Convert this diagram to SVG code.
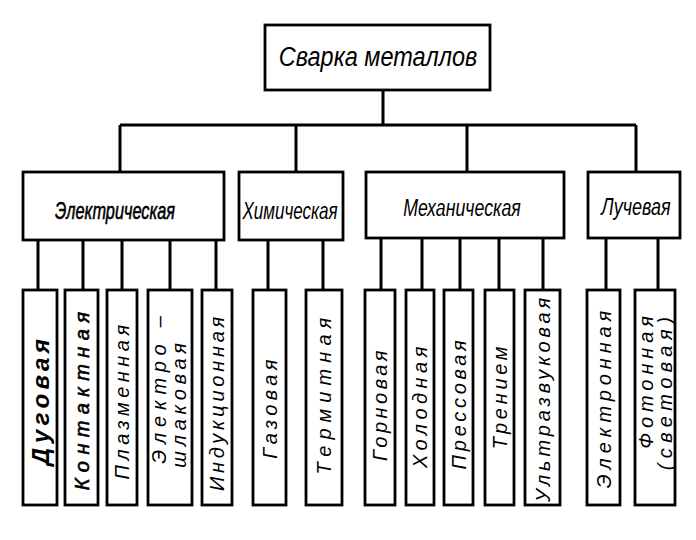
<svg xmlns="http://www.w3.org/2000/svg" width="696" height="540" viewBox="0 0 696 540">
<style>
.box{fill:#fff;stroke:#000;stroke-width:2.8}
.con{fill:none;stroke:#000;stroke-width:3}
text{font-family:"Liberation Sans","DejaVu Sans",sans-serif;font-style:italic;fill:#000;text-anchor:middle;dominant-baseline:central}
.m{font-size:24px}
.l{font-size:20px}
.s{stroke:#000;stroke-width:0.6}
</style>
<rect width="696" height="540" fill="#fff"/>
<g id="connectors">
<path class="con" d="M383 90V125M120 125H636M120 125V172M296 125V172M467 125V172M636 125V172"/>
<path class="con" d="M38 240V290M83 240V290M122 240V290M170 240V290M216 240V290M268 240V290M323 240V290M381 238V290M422 238V290M460 238V290M499 238V290M543 238V290M606 238V290M658 238V290"/>
</g>
<g id="root"><rect class="box" x="265" y="25" width="225" height="65"/><text font-size="28" transform="translate(378,56) scale(0.84,1)">Сварка металлов</text></g>
<g id="electric"><rect class="box" x="23" y="172" width="201" height="68"/><text class="m s" transform="translate(115,210) scale(0.68,1)">Электрическая</text></g>
<g id="chemical"><rect class="box" x="239" y="172" width="104" height="68"/><text class="m" transform="translate(290,210) scale(0.71,1)">Химическая</text></g>
<g id="mechanical"><rect class="box" x="366" y="172" width="198" height="66"/><text class="m" transform="translate(462,207) scale(0.74,1)">Механическая</text></g>
<g id="beam"><rect class="box" x="588" y="172" width="92" height="66"/><text class="m" transform="translate(636,207) scale(0.75,1)">Лучевая</text></g>

<g id="arc"><rect class="box" x="23" y="290" width="34" height="215"/><text font-size="24" font-weight="bold" letter-spacing="4.4" transform="translate(40,400) rotate(-90)">Дуговая</text></g>
<g id="contact"><rect class="box" x="65" y="290" width="33" height="215"/><text class="l s" letter-spacing="6.4" transform="translate(81.5,398) rotate(-90)">Контактная</text></g>
<g id="plasma"><rect class="box" x="107" y="290" width="30" height="215"/><text class="l" letter-spacing="4.5" transform="translate(122,400) rotate(-90)">Плазменная</text></g>
<g id="electroslag"><rect class="box" x="148" y="290" width="44" height="215"/><text class="l" letter-spacing="5.8" transform="translate(159,387) rotate(-90)">Электро –</text><text class="l" letter-spacing="4.75" transform="translate(179,403) rotate(-90)">шлаковая</text></g>
<g id="induction"><rect class="box" x="202" y="290" width="30" height="215"/><text class="l" letter-spacing="3.75" transform="translate(217,402) rotate(-90)">Индукционная</text></g>
<g id="gas"><rect class="box" x="253" y="290" width="33" height="215"/><text class="l" letter-spacing="4.4" transform="translate(269.5,407) rotate(-90)">Газовая</text></g>
<g id="thermit"><rect class="box" x="306" y="290" width="36" height="215"/><text class="l" letter-spacing="6.1" transform="translate(324,393) rotate(-90)">Термитная</text></g>
<g id="forge"><rect class="box" x="365" y="290" width="30" height="215"/><text class="l" letter-spacing="3.5" transform="translate(380,404) rotate(-90)">Горновая</text></g>
<g id="cold"><rect class="box" x="406" y="290" width="28" height="215"/><text class="l" letter-spacing="4.5" transform="translate(420,405) rotate(-90)">Холодная</text></g>
<g id="press"><rect class="box" x="444" y="290" width="29" height="215"/><text class="l" letter-spacing="3.7" transform="translate(458.5,403) rotate(-90)">Прессовая</text></g>
<g id="friction"><rect class="box" x="485" y="290" width="29" height="215"/><text class="l" letter-spacing="3.7" transform="translate(499.5,396) rotate(-90)">Трением</text></g>
<g id="ultrasonic"><rect class="box" x="525" y="290" width="35" height="215"/><text class="l" letter-spacing="3.9" transform="translate(542.5,398) rotate(-90)">Ультразвуковая</text></g>
<g id="electron"><rect class="box" x="587" y="290" width="33" height="215"/><text class="l" letter-spacing="4.9" transform="translate(603.5,397) rotate(-90)">Электронная</text></g>
<g id="photon"><rect class="box" x="635" y="290" width="40" height="215"/><text class="l" letter-spacing="4.9" transform="translate(646,380) rotate(-90)">Фотонная</text><text class="l" letter-spacing="5.5" transform="translate(665,391) rotate(-90)">(световая)</text></g>
</svg>
